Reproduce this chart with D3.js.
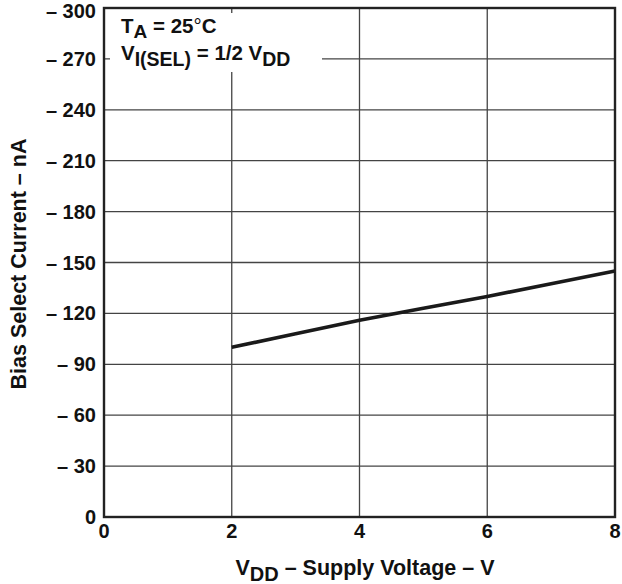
<!DOCTYPE html>
<html><head><meta charset="utf-8">
<script src="https://cdn.jsdelivr.net/npm/d3@7"></script>
<style>body{margin:0;background:#fff}svg{display:block;font-family:"Liberation Sans",Arial,sans-serif;font-weight:bold}</style>
</head><body><svg id="c" width="622" height="584"></svg>
<script>
const vdd = [2, 3, 4, 5, 6, 7, 8];
const current = [100, 108, 116, 123, 130, 137.5, 145];
const xTicks = [0, 2, 4, 6, 8];
const yTicks = [0, 30, 60, 90, 120, 150, 180, 210, 240, 270, 300];

const svg = d3.select("#c");
const L = 104, R = 615, T = 8, B = 517;
const x = d3.scaleLinear().domain([0, 8]).range([L, R]);
const y = d3.scaleLinear().domain([0, 300]).range([B, T]);

// grid
svg.append("g").selectAll("line").data(xTicks.slice(1, -1)).join("line")
  .attr("x1", d => x(d)).attr("x2", d => x(d)).attr("y1", T).attr("y2", B)
  .attr("stroke", "#444").attr("stroke-width", 1.3);
svg.append("g").selectAll("line").data(yTicks.slice(1, -1)).join("line")
  .attr("x1", L).attr("x2", R).attr("y1", d => y(d)).attr("y2", d => y(d))
  .attr("stroke", "#444").attr("stroke-width", 1.3);

// annotation box
svg.append("rect").attr("x", L + 6).attr("y", T + 5).attr("width", 212).attr("height", 59).attr("fill", "#fff");
const a1 = svg.append("text").attr("x", 121).attr("y", 33).attr("font-size", 20.5).attr("fill", "#111");
a1.append("tspan").text("T");
a1.append("tspan").attr("dy", 5).attr("font-size", 19).text("A");
a1.append("tspan").attr("dy", -5).text(" = 25");
a1.append("tspan").attr("font-weight", "normal").text("°");
a1.append("tspan").text("C");
const a2 = svg.append("text").attr("x", 121).attr("y", 60).attr("font-size", 20.5).attr("fill", "#111");
a2.append("tspan").text("V");
a2.append("tspan").attr("dy", 6).attr("font-size", 19.5).text("I(SEL)");
a2.append("tspan").attr("dy", -6).text(" = 1/2 V");
a2.append("tspan").attr("dy", 6).attr("font-size", 19.5).text("DD");

// frame
svg.append("rect").attr("x", L).attr("y", T).attr("width", R - L).attr("height", B - T)
  .attr("fill", "none").attr("stroke", "#222").attr("stroke-width", 2.4);

// data line
svg.append("path").datum(vdd.map((v, i) => [v, current[i]]))
  .attr("d", d3.line().x(d => x(d[0])).y(d => y(d[1])))
  .attr("fill", "none").attr("stroke", "#1a1a1a").attr("stroke-width", 3.6);

// tick labels
svg.append("g").selectAll("text").data(xTicks).join("text")
  .attr("x", d => x(d)).attr("y", B + 21).attr("text-anchor", "middle")
  .attr("font-size", 20).attr("fill", "#111").text(d => d);
svg.append("g").selectAll("text").data(yTicks).join("text")
  .attr("x", L - 8).attr("y", d => Math.max(y(d) + 7, 18)).attr("text-anchor", "end")
  .attr("font-size", 20).attr("fill", "#111").text(d => d === 0 ? "0" : "– " + d);

// axis titles
const xt = svg.append("text").attr("x", 365).attr("y", 575).attr("text-anchor", "middle")
  .attr("font-size", 21.5).attr("fill", "#111");
xt.append("tspan").text("V");
xt.append("tspan").attr("dy", 6).attr("font-size", 20).text("DD");
xt.append("tspan").attr("dy", -6).text(" – Supply Voltage – V");

svg.append("text").attr("transform", "translate(26,264) rotate(-90)").attr("text-anchor", "middle")
  .attr("font-size", 21.5).attr("fill", "#111").text("Bias Select Current – nA");
</script></body></html>
